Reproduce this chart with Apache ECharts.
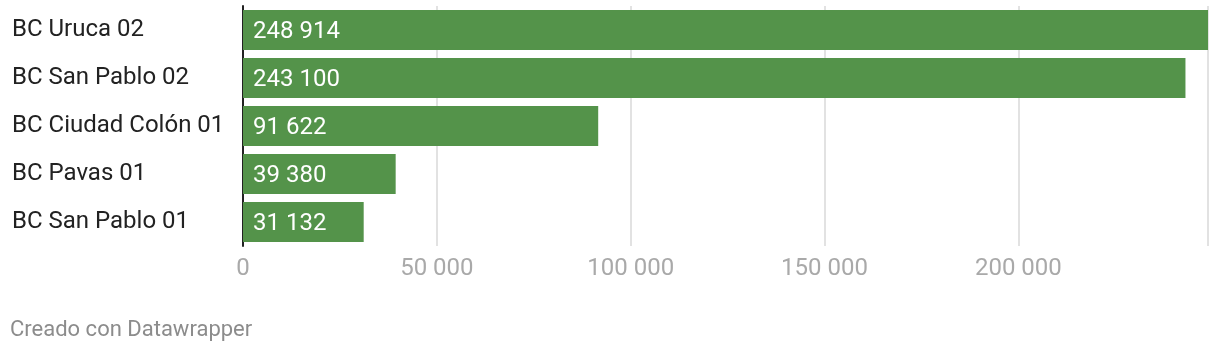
<!DOCTYPE html>
<html><head><meta charset="utf-8">
<script src="https://cdn.jsdelivr.net/npm/echarts@6/dist/echarts.min.js"></script>
<style>html,body{margin:0;padding:0;background:#fff}#c{width:1220px;height:354px}</style>
</head><body><div id="c"></div>
<script>
const categories = ['BC Uruca 02','BC San Pablo 02','BC Ciudad Colón 01','BC Pavas 01','BC San Pablo 01'];
const values = [248914, 243100, 91622, 39380, 31132];
const tickValues = [0, 50000, 100000, 150000, 200000];
const footer = 'Creado con Datawrapper';
const fmt = v => String(v).replace(/\B(?=(\d{3})+(?!\d))/g, ' ');
const chart = echarts.init(document.getElementById('c'));
chart.setOption({
  animation:false,
  textStyle:{fontFamily:'Roboto'},
  grid:{left:243,right:12,top:6,height:240,containLabel:false},
  xAxis:{type:'value',min:0,max:'dataMax',interval:50000,
    axisLine:{show:false},axisTick:{show:false},
    splitLine:{show:true,lineStyle:{color:'#e2e2e2',width:2}},
    axisLabel:{color:'#a9a9a9',fontSize:24,margin:11,fontFamily:'Roboto',
      formatter:v=>tickValues.includes(v)?fmt(v):''}},
  yAxis:{type:'category',data:categories,inverse:true,
    axisLine:{show:true,lineStyle:{color:'#222',width:2}},axisTick:{show:false},
    axisLabel:{align:'left',margin:231,color:'#222',fontSize:24,fontFamily:'Roboto',padding:[7,0,0,0]}},
  series:[{type:'bar',data:values,barWidth:40,itemStyle:{color:'#54934a'},
    label:{show:true,position:'insideLeft',offset:[5,2],color:'#fff',fontSize:24,fontFamily:'Roboto',
      formatter:p=>fmt(p.value)}}],
  graphic:[{type:'text',left:10,top:319,style:{text:footer,fill:'#8c8c8c',font:'22px Roboto'}}]
});
</script></body></html>
